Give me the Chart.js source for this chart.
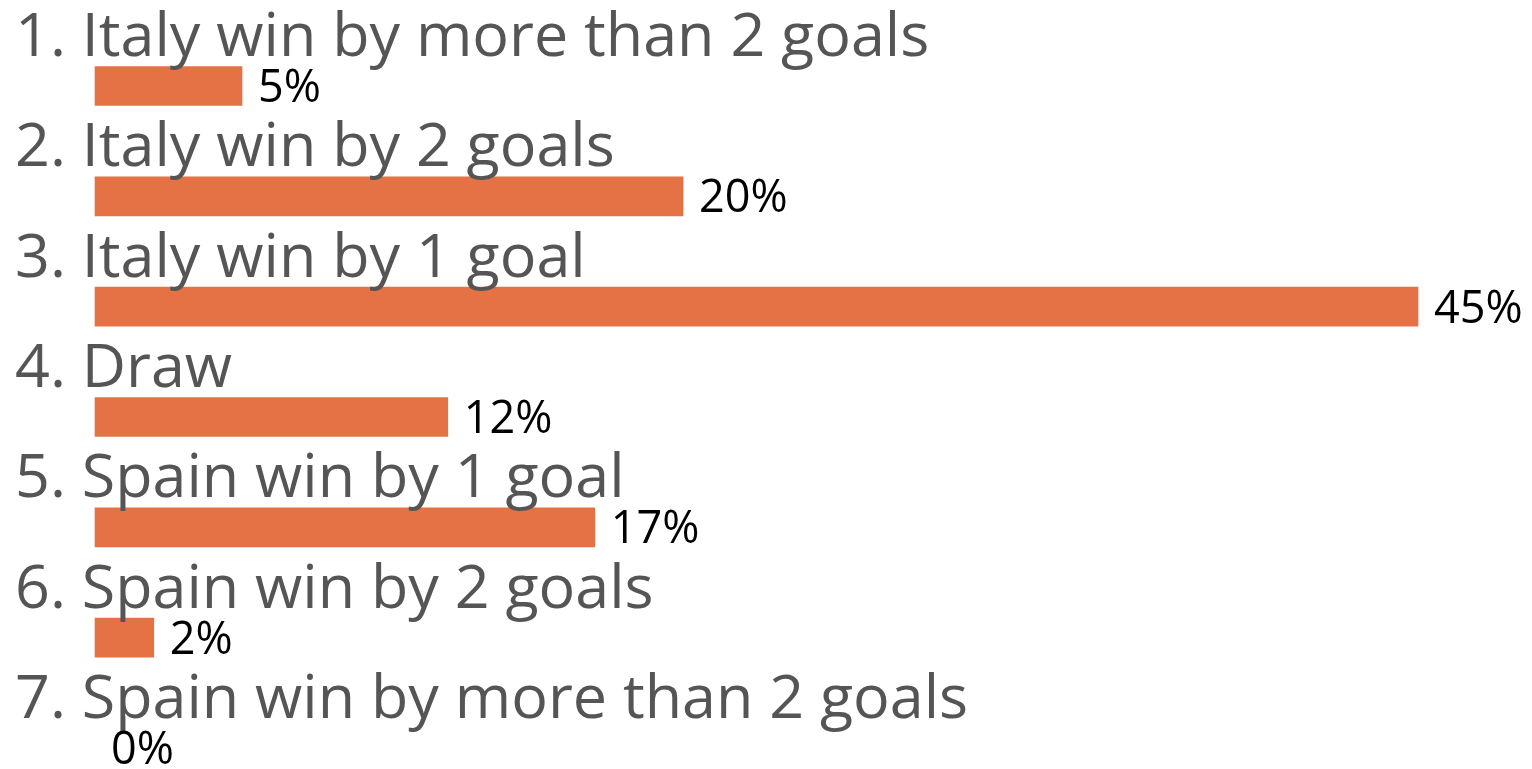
<!DOCTYPE html>
<html>
<head>
<meta charset="utf-8">
<script src="https://cdn.jsdelivr.net/npm/chart.js@4/dist/chart.umd.min.js"></script>
<style>
  body { margin: 0; background: #fff; }
  #wrap { width: 1532px; height: 769px; position: relative; }
</style>
</head>
<body>
<div id="wrap"><canvas id="barChart"></canvas></div>
<script>
var outcomes = ['1. Italy win by more than 2 goals', '2. Italy win by 2 goals', '3. Italy win by 1 goal',
    '4. Draw', '5. Spain win by 1 goal', '6. Spain win by 2 goals', '7. Spain win by more than 2 goals'];
var percents = [5, 20, 45, 12, 17, 2, 0];

// labels above each bar, value at the end of each bar
var labelPlugin = {
    id: 'rowLabels',
    afterDatasetsDraw: function (chart) {
        var c = chart.ctx;
        var meta = chart.getDatasetMeta(0);
        c.save();
        meta.data.forEach(function (bar, i) {
            var y = bar.y;
            c.fillStyle = '#555555';
            c.font = '61px "Open Sans"';
            c.textAlign = 'left';
            c.textBaseline = 'alphabetic';
            c.fillText(outcomes[i], 15, y - 30);

            c.fillStyle = '#000';
            c.font = '45px "Open Sans"';
            c.fillText(percents[i] + '%', bar.x + 16, y + 16);
        });
        c.restore();
    }
};

var ctx = document.getElementById('barChart').getContext('2d');
var myChart = new Chart(ctx, {
    type: 'bar',
    data: {
        labels: outcomes,
        datasets: [{
            data: percents,
            backgroundColor: function (context) {
                return context.raw === 0 ? 'rgba(0,0,0,0)' : '#E57244';
            },
            borderWidth: 0,
            barThickness: 39,
            clip: false
        }]
    },
    options: {
        indexAxis: 'y',
        responsive: true,
        maintainAspectRatio: false,
        animation: false,
        layout: {
            padding: { left: 95, right: 114, top: 86, bottom: 21 }
        },
        plugins: {
            legend: { display: false },
            tooltip: { enabled: false }
        },
        scales: {
            x: { display: false, min: 0, max: 45 },
            y: { display: false, offset: false }
        }
    },
    plugins: [labelPlugin]
});
</script>
</body>
</html>
